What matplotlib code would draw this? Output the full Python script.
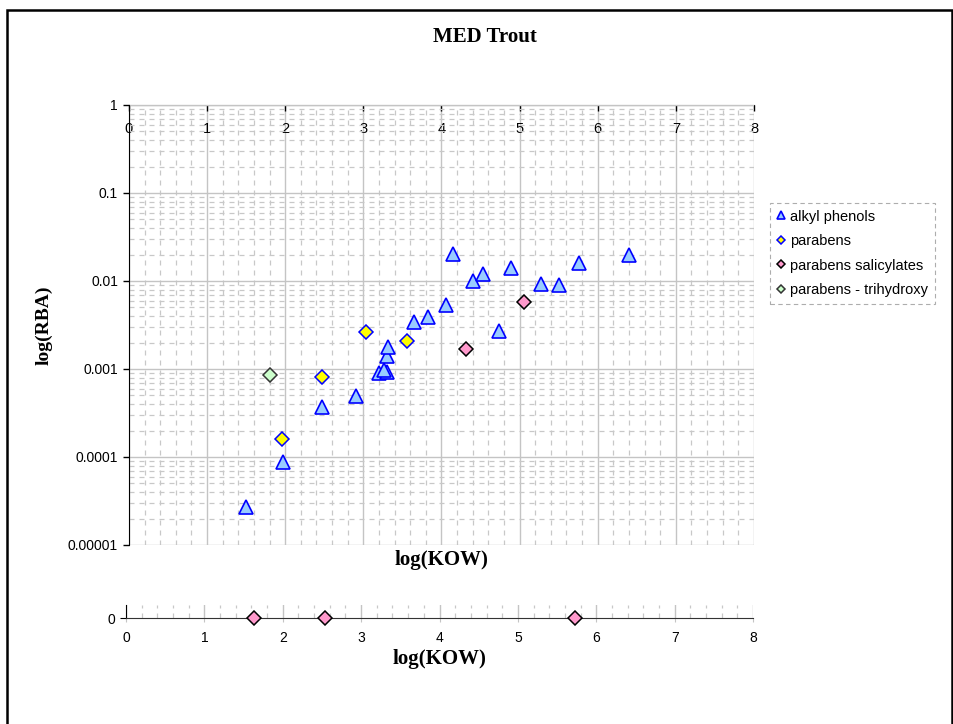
import matplotlib
matplotlib.use("Agg")
import matplotlib.pyplot as plt
from matplotlib.ticker import FixedLocator, FixedFormatter, MultipleLocator, LogLocator, NullFormatter
from matplotlib.patches import Rectangle

# ---- data ----
alkyl_x = [1.50, 1.97, 2.47, 2.91, 3.20, 3.30, 3.26, 3.30, 3.31, 3.65, 3.83, 4.06,
           4.15, 4.40, 4.53, 4.89, 5.27, 5.51, 5.76, 6.40, 4.74]
alkyl_y = [2.7e-5, 8.8e-5, 3.7e-4, 4.9e-4, 9.0e-4, 9.3e-4, 9.8e-4, 1.4e-3, 1.8e-3,
           3.4e-3, 3.9e-3, 5.3e-3, 0.0203, 0.0100, 0.0120, 0.0141, 0.0093, 0.0090,
           0.0159, 0.0198, 2.7e-3]
parabens_x = [1.96, 2.47, 3.03, 3.56]
parabens_y = [1.6e-4, 8.1e-4, 2.6e-3, 2.1e-3]
salicyl_x = [5.06, 4.31]
salicyl_y = [5.8e-3, 1.7e-3]
trihyd_x = [1.80]
trihyd_y = [8.5e-4]
zero_x = [1.63, 2.54, 5.73]
zero_y = [0, 0, 0]

y_ticks = [1e-5, 1e-4, 1e-3, 1e-2, 1e-1, 1]
y_labels = ["0.00001", "0.0001", "0.001", "0.01", "0.1", "1"]
x_ticks = [0, 1, 2, 3, 4, 5, 6, 7, 8]
x_labels = ["0", "1", "2", "3", "4", "5", "6", "7", "8"]
series_names = ["alkyl phenols", "parabens", "parabens salicylates", "parabens - trihydroxy"]

SANS = "Liberation Sans"
SERIF = "Liberation Serif"
plt.rcParams["font.family"] = [SANS, "DejaVu Sans"]

W, H = 954, 724
fig = plt.figure(figsize=(W / 100, H / 100), dpi=100)

def fx(px):
    return px / W

def fy(py):
    return 1 - py / H

# outer border
fig.patches.append(Rectangle((fx(7), -0.02), fx(952) - fx(7), fy(10) + 0.02,
                             transform=fig.transFigure, fill=False, edgecolor="black",
                             linewidth=1.8, zorder=10))

fig.text(fx(485), fy(37), "MED Trout", ha="center", va="center",
         fontfamily=SERIF, fontweight="bold", fontsize=15)

# ---- main axes ----
ax = fig.add_axes([fx(129), fy(545), fx(754) - fx(129), fy(105) - fy(545)])
ax.set_yscale("log")
ax.set_xlim(0, 8)
ax.set_ylim(1e-5, 1)

grid_major = "#c4c4c4"
grid_minor = "#c8c8c8"

ax.yaxis.set_major_locator(FixedLocator(y_ticks))
ax.yaxis.set_major_formatter(FixedFormatter(y_labels))
ax.yaxis.set_minor_locator(LogLocator(base=10, subs=range(2, 10), numticks=20))
ax.yaxis.set_minor_formatter(NullFormatter())
ax.xaxis.set_major_locator(FixedLocator(x_ticks))
ax.xaxis.set_major_formatter(FixedFormatter(x_labels))
ax.xaxis.set_minor_locator(MultipleLocator(0.2))

ax.grid(True, which="major", color=grid_major, linewidth=1.0, linestyle="-")
ax.grid(True, which="minor", color=grid_minor, linewidth=0.9, linestyle=(0, (4, 4)))
ax.set_axisbelow(True)

for s in ["bottom", "right"]:
    ax.spines[s].set_visible(False)
ax.spines["left"].set_color("black")
ax.spines["top"].set_color("#444444")
ax.spines["top"].set_zorder(0.5)

ax.tick_params(axis="y", which="major", direction="out", length=4, width=1,
               labelsize=10, pad=4, left=True, right=False)
ax.tick_params(axis="y", which="minor", length=0)
ax.tick_params(axis="x", which="major", direction="in", length=4, width=1,
               bottom=False, top=True, labelbottom=False, labeltop=True,
               labelsize=10.5, pad=-22)
ax.tick_params(axis="x", which="minor", length=0)

l1, = ax.plot(alkyl_x, alkyl_y, linestyle="none", marker="^", markersize=10,
              markerfacecolor="#99ccff", markeredgecolor="#0000ff", markeredgewidth=1.2,
              zorder=3, clip_on=False)
l2, = ax.plot(parabens_x, parabens_y, linestyle="none", marker="D", markersize=7,
              markerfacecolor="#ffff00", markeredgecolor="#0000ff", markeredgewidth=1.1,
              zorder=3)
l3, = ax.plot(salicyl_x, salicyl_y, linestyle="none", marker="D", markersize=7,
              markerfacecolor="#ff99cc", markeredgecolor="#000000", markeredgewidth=1.1,
              zorder=3)
l4, = ax.plot(trihyd_x, trihyd_y, linestyle="none", marker="D", markersize=7,
              markerfacecolor="#ccffcc", markeredgecolor="#333333", markeredgewidth=1.1,
              zorder=3)

ax.set_xlabel("log(KOW)", fontfamily=SERIF, fontweight="bold", fontsize=15)
ax.xaxis.set_label_position("bottom")
ax.xaxis.set_label_coords(0.5, -(550 - 545) / 440)
ax.xaxis.label.set_va("top")
ax.set_ylabel("log(RBA)", fontfamily=SERIF, fontweight="bold", fontsize=14)
ax.yaxis.set_label_coords((53 - 129) / 625, 0.5)

leg = fig.legend([l1, l2, l3, l4], series_names, loc="upper left",
                 bbox_to_anchor=(fx(770), fy(203)), bbox_transform=fig.transFigure,
                 fontsize=10.5, markerscale=0.55, handlelength=0.55, handletextpad=0.4,
                 labelspacing=0.72, borderpad=0.45, borderaxespad=0, fancybox=False,
                 frameon=True)
fr = leg.get_frame()
fr.set_edgecolor("#999999")
fr.set_linestyle((0, (4, 3)))
fr.set_linewidth(0.8)

# ---- zero strip ----
ax2 = fig.add_axes([fx(126), fy(618), fx(753) - fx(126), fy(605) - fy(618)])
ax2.set_xlim(0, 8)
ax2.set_ylim(0, 1)
ax2.xaxis.set_major_locator(FixedLocator(x_ticks))
ax2.xaxis.set_major_formatter(FixedFormatter(x_labels))
ax2.xaxis.set_minor_locator(MultipleLocator(0.2))
ax2.set_yticks([0])
ax2.set_yticklabels(["0"])
ax2.grid(True, axis="x", which="major", color=grid_major, linewidth=1.0)
ax2.grid(True, axis="x", which="minor", color=grid_minor, linewidth=0.9, linestyle=(0, (4, 4)))
ax2.set_axisbelow(True)
for s in ["top", "right"]:
    ax2.spines[s].set_visible(False)
ax2.spines["left"].set_color("black")
ax2.spines["bottom"].set_color("#333333")
ax2.tick_params(axis="x", which="major", direction="out", length=3, color=grid_major,
                labelsize=10, pad=6)
ax2.tick_params(axis="x", which="minor", length=0)
ax2.tick_params(axis="y", direction="out", length=4, labelsize=10, pad=4)
ax2.plot(zero_x, zero_y, linestyle="none", marker="D", markersize=7,
         markerfacecolor="#ff99cc", markeredgecolor="#000000", markeredgewidth=1.1,
         zorder=3, clip_on=False)
ax2.set_xlabel("log(KOW)", fontfamily=SERIF, fontweight="bold", fontsize=15)
ax2.xaxis.set_label_coords(0.5, -(649 - 618) / 13)
ax2.xaxis.label.set_va("top")

fig.savefig("out.png", dpi=100)
